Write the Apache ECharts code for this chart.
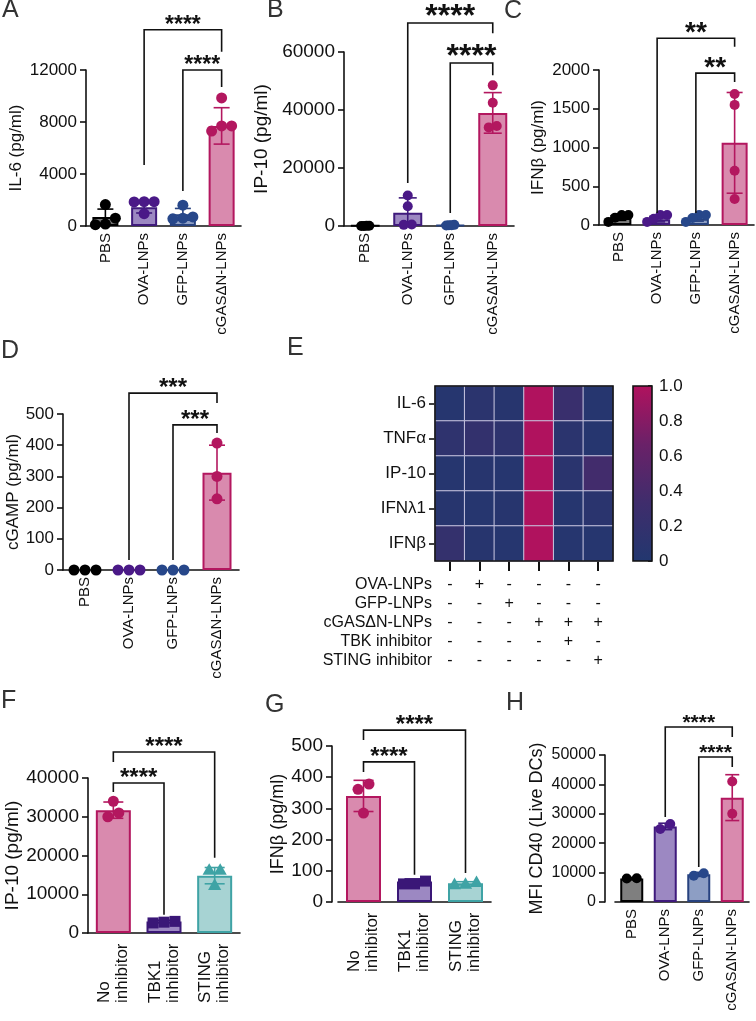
<!DOCTYPE html>
<html>
<head>
<meta charset="utf-8">
<script src="https://cdn.jsdelivr.net/npm/echarts@6/dist/echarts.min.js"></script>
<style>
  html, body { margin: 0; padding: 0; background: #fff; }
  #chart { width: 756px; height: 1021px; }
</style>
</head>
<body>
<div id="chart"></div>
<script>
// ---------- data ----------
const lnpGroups = ['PBS', 'OVA-LNPs', 'GFP-LNPs', 'cGASΔN-LNPs'];
const lnpKeys = ['PBS', 'OVA', 'GFP', 'CGAS'];
const inhibGroups = ['No\ninhibitor', 'TBK1\ninhibitor', 'STING\ninhibitor'];
const inhibKeys = ['NOI', 'TBK', 'STING'];

// A  IL-6 (pg/ml)
const il6Mean = [700, 1450, 900, 7700];
const il6Sd = [600, 450, 450, 1400];
const il6Pts = [[1650, 600, 100, 150], [1870, 1850, 1870, 950], [1600, 600, 700, 550], [9850, 7700, 7300, 7700]];
const il6Sig = [[1, 3, '****'], [2, 3, '****']];

// B  IP-10 (pg/ml)
const ip10Mean = [100, 4600, 300, 39000];
const ip10Sd = [100, 5100, 200, 7000];
const ip10Pts = [[0, 50, 100, 0], [10500, 6800, 500, 400], [300, 200, 400, 300], [48500, 42500, 34500, 34000]];
const ip10Sig = [[1, 3, '****'], [2, 3, '****']];

// C  IFNβ (pg/ml)
const ifnbMean = [90, 75, 80, 1060];
const ifnbSd = [30, 35, 30, 650];
const ifnbPts = [[130, 130, 40, 95], [130, 130, 40, 80], [130, 130, 40, 90], [1690, 1550, 700, 335]];
const ifnbSig = [[1, 3, '**'], [2, 3, '**']];

// D  cGAMP (pg/ml)
const cgampMean = [0, 0, 0, 312];
const cgampSd = [0, 0, 0, 88];
const cgampPts = [[0, 0, 0], [0, 0, 0], [0, 0, 0], [407, 300, 228]];
const cgampSig = [[1, 3, '***'], [2, 3, '***']];

// E  normalised heatmap
const heatRows = ['IL-6', 'TNFα', 'IP-10', 'IFNλ1', 'IFNβ'];
const heatVals = [
  [0.05, 0.10, 0.06, 1.00, 0.26, 0.05],
  [0.15, 0.20, 0.14, 1.00, 0.10, 0.05],
  [0.05, 0.06, 0.05, 1.00, 0.09, 0.36],
  [0.06, 0.05, 0.06, 1.00, 0.05, 0.09],
  [0.21, 0.06, 0.05, 1.00, 0.05, 0.05]
];
const colorTicks = [0, 0.2, 0.4, 0.6, 0.8, 1.0];
const tableRows = ['OVA-LNPs', 'GFP-LNPs', 'cGASΔN-LNPs', 'TBK inhibitor', 'STING inhibitor'];
const tableSigns = [
  ['-', '+', '-', '-', '-', '-'],
  ['-', '-', '+', '-', '-', '-'],
  ['-', '-', '-', '+', '+', '+'],
  ['-', '-', '-', '-', '+', '-'],
  ['-', '-', '-', '-', '-', '+']
];

// F  IP-10 with inhibitors
const fMean = [31700, 3000, 14800];
const fSd = [2100, 300, 2100];
const fPts = [[34000, 30000, 31000], [2600, 3000, 2800], [16300, 12400, 16300]];
const fSig = [[0, 2, '****'], [0, 1, '****']];

// G  IFNβ with inhibitors
const gMean = [340, 66, 60];
const gSd = [50, 8, 5];
const gPts = [[378, 285, 361], [58, 67, 58], [58, 64, 57]];
const gSig = [[0, 2, '****'], [0, 1, '****']];

// H  MFI CD40 (Live DCs)
const hMean = [8000, 25700, 9400, 35500];
const hSd = [300, 1100, 700, 7800];
const hPts = [[8100, 8000], [24800, 26500], [8900, 9800], [41000, 30000]];
const hSig = [[1, 3, '****'], [2, 3, '****']];

// ---------- styles ----------
const FONT = '"Liberation Sans", Arial, Helvetica, sans-serif';
const INK = '#111';
const groupStyle = {
  PBS:   { fill: '#7f7f7f', line: '#000000', dot: '#000000', shape: 'circle' },
  OVA:   { fill: '#9c88c2', line: '#3f1a7c', dot: '#4a1987', shape: 'circle' },
  GFP:   { fill: '#8d9ec4', line: '#27427f', dot: '#27478a', shape: 'circle' },
  CGAS:  { fill: '#d98aae', line: '#b3175f', dot: '#b3175f', shape: 'circle' },
  NOI:   { fill: '#d98aae', line: '#b3175f', dot: '#b3175f', shape: 'circle' },
  TBK:   { fill: '#9c88c2', line: '#3a1777', dot: '#3a1777', shape: 'square' },
  STING: { fill: '#a7d3d3', line: '#3fa3a5', dot: '#3fa3a5', shape: 'triangle' }
};
const heatColors = ['#22376f', '#3f2d6c', '#6a2168', '#b0125e'];

const chart = echarts.init(document.getElementById('chart'));
const option = {
  animation: false,
  backgroundColor: '#fff',
  textStyle: { fontFamily: FONT },
  title: [], grid: [], xAxis: [], yAxis: [], series: [], visualMap: []
};

function letter(text, left, top) {
  option.title.push({
    text: text, left: left, top: top, padding: 0,
    textStyle: { fontSize: 25, fontWeight: 'normal', color: '#333', fontFamily: FONT }
  });
}

// points that sit close together are put side by side, like a swarm
function swarm(values, pxPerUnit, d, maxSpan) {
  const order = values.map((v, i) => i).sort((a, b) => values[a] - values[b]);
  const offs = new Array(values.length).fill(0);
  let cluster = [];
  const flush = () => {
    const k = cluster.length;
    const step = k > 1 ? Math.min(d, maxSpan / (k - 1)) : 0;
    cluster.forEach((idx, j) => { offs[idx] = (j - (k - 1) / 2) * step; });
    cluster = [];
  };
  order.forEach(i => {
    if (cluster.length && (values[i] - values[cluster[cluster.length - 1]]) * pxPerUnit > d * 0.9) flush();
    cluster.push(i);
  });
  flush();
  return offs;
}

function addBarPanel(p) {
  const gi = option.grid.length;
  const st = p.keys.map(k => groupStyle[k]);
  const axisLine = { color: INK, width: 1.6 };
  option.grid.push({ left: p.left, top: p.top, width: p.width, height: p.height });

  const multi = p.cats.some(c => c.indexOf('\n') >= 0);
  const catLabel = {
    rotate: 90, interval: 0, margin: p.catMargin, color: INK,
    fontSize: p.catFont, fontFamily: FONT
  };
  if (multi) {
    catLabel.formatter = v => v.split('\n').map(s => '{a|' + s + '}').join('\n');
    catLabel.rich = { a: { width: p.catWidth, align: 'left', fontSize: p.catFont, fontFamily: FONT, color: INK, lineHeight: p.catFont + 1 } };
  }
  option.xAxis.push({
    gridIndex: gi, type: 'category', data: p.cats,
    axisLine: { lineStyle: axisLine },
    axisTick: { alignWithLabel: true, length: 6, lineStyle: axisLine },
    axisLabel: catLabel
  });
  option.yAxis.push({
    gridIndex: gi, type: 'value', min: 0, max: p.max, interval: p.step,
    offset: p.yOffset || 0,
    name: p.yName, nameLocation: 'middle', nameGap: p.nameGap, nameRotate: 90,
    nameTextStyle: { fontSize: p.nameFont, color: INK, fontFamily: FONT },
    axisLine: { show: true, lineStyle: axisLine },
    axisTick: { show: true, length: 6, lineStyle: axisLine },
    axisLabel: { fontSize: p.tickFont, margin: 9, color: INK, fontFamily: FONT, formatter: v => String(v) },
    splitLine: { show: false }
  });

  // bars = group means
  option.series.push({
    type: 'bar', xAxisIndex: gi, yAxisIndex: gi, barWidth: p.barWidth, z: 2,
    data: p.mean.map((v, i) => ({
      value: v,
      itemStyle: { color: st[i].fill, borderColor: st[i].line, borderWidth: v > 0 ? 2 : 0 }
    }))
  });

  // error bars (mean ± SD)
  option.series.push({
    type: 'custom', xAxisIndex: gi, yAxisIndex: gi, z: 3,
    data: p.mean.map((m, i) => [i, Math.max(0, m - p.sd[i]), m + p.sd[i]]),
    renderItem: (params, api) => {
      const i = api.value(0);
      if (api.value(2) - api.value(1) <= 0) return null;
      const lo = api.coord([i, api.value(1)]);
      const hi = api.coord([i, api.value(2)]);
      const half = p.capWidth / 2;
      const s = { stroke: st[i].line, lineWidth: 1.6 };
      const ch = [
        { type: 'line', shape: { x1: lo[0], y1: lo[1], x2: hi[0], y2: hi[1] }, style: s },
        { type: 'line', shape: { x1: hi[0] - half, y1: hi[1], x2: hi[0] + half, y2: hi[1] }, style: s }
      ];
      if (api.value(1) > 0) ch.push({ type: 'line', shape: { x1: lo[0] - half, y1: lo[1], x2: lo[0] + half, y2: lo[1] }, style: s });
      return { type: 'group', children: ch };
    }
  });

  // individual points
  const pxPerUnit = p.height / p.max;
  const ptData = [];
  p.pts.forEach((vals, i) => {
    const offs = swarm(vals, pxPerUnit, p.dot, p.spread);
    vals.forEach((v, j) => ptData.push([i, v, offs[j]]));
  });
  option.series.push({
    type: 'custom', xAxisIndex: gi, yAxisIndex: gi, z: 4, data: ptData,
    renderItem: (params, api) => {
      const i = api.value(0);
      const c = api.coord([i, api.value(1)]);
      const x = c[0] + api.value(2), y = c[1];
      const r = p.dot / 2;
      const sty = { fill: st[i].dot };
      if (st[i].shape === 'square') {
        return { type: 'rect', shape: { x: x - r, y: y - r, width: 2 * r, height: 2 * r }, style: sty };
      }
      if (st[i].shape === 'triangle') {
        const t = r * 1.2;
        return { type: 'polygon', shape: { points: [[x, y - t], [x + t, y + t * 0.75], [x - t, y + t * 0.75]] }, style: sty };
      }
      return { type: 'circle', shape: { cx: x, cy: y, r: r }, style: sty };
    }
  });

  // significance brackets
  option.series.push({
    type: 'custom', xAxisIndex: gi, yAxisIndex: gi, z: 5,
    data: p.sig.map((s, k) => [s[0], s[1], k]),
    renderItem: (params, api) => {
      const a = api.value(0), b = api.value(1), k = api.value(2);
      const lv = p.levels[k];
      const pa = api.coord([a, lv[1]]);
      const top = api.coord([a, lv[0]]);
      const pb = api.coord([b, lv[2]]);
      const tb = api.coord([b, lv[0]]);
      return {
        type: 'group', children: [
          { type: 'polyline', shape: { points: [pa, top, tb, pb] }, style: { stroke: INK, lineWidth: 1.6, fill: null } },
          {
            type: 'text', x: (top[0] + tb[0]) / 2, y: top[1] + p.starFont * 0.32,
            style: {
              text: p.sig[k][2], fill: INK, align: 'center', verticalAlign: 'bottom',
              font: 'bold ' + p.starFont + 'px ' + FONT
            }
          }
        ]
      };
    }
  });
}

// ---------- panels ----------
addBarPanel({
  left: 86, top: 70, width: 155, height: 156, max: 12000, step: 4000,
  cats: lnpGroups, keys: lnpKeys, mean: il6Mean, sd: il6Sd, pts: il6Pts, sig: il6Sig,
  levels: [[15100, 4700, 13400], [12000, 2700, 10700]],
  yName: 'IL-6 (pg/ml)', nameGap: 61, nameFont: 17, tickFont: 17, catFont: 15, catMargin: 7,
  starFont: 23, dot: 11, spread: 20, barWidth: 26, capWidth: 16
});
addBarPanel({
  left: 344, top: 52, width: 170, height: 174, max: 60000, step: 20000,
  cats: lnpGroups, keys: lnpKeys, mean: ip10Mean, sd: ip10Sd, pts: ip10Pts, sig: ip10Sig,
  levels: [[70000, 14800, 66500], [56200, 4500, 52000]],
  yName: 'IP-10 (pg/ml)', nameGap: 73, nameFont: 19, tickFont: 19, catFont: 15, catMargin: 7,
  starFont: 32, dot: 10, spread: 8, barWidth: 29, capWidth: 18
});
addBarPanel({
  left: 599, top: 70, width: 155, height: 155, max: 2000, step: 500,
  cats: lnpGroups, keys: lnpKeys, mean: ifnbMean, sd: ifnbSd, pts: ifnbPts, sig: ifnbSig,
  levels: [[2410, 155, 2300], [1960, 155, 1845]],
  yName: 'IFNβ (pg/ml)', nameGap: 52, nameFont: 17, tickFont: 17, catFont: 15, catMargin: 7,
  starFont: 28, dot: 10, spread: 20, barWidth: 26, capWidth: 16
});
addBarPanel({
  left: 63, top: 414, width: 176, height: 156, max: 500, step: 100,
  cats: lnpGroups, keys: lnpKeys, mean: cgampMean, sd: cgampSd, pts: cgampPts, sig: cgampSig,
  levels: [[567, 32, 535], [465, 32, 439]],
  yName: 'cGAMP (pg/ml)', nameGap: 37, nameFont: 17, tickFont: 17, catFont: 15, catMargin: 7,
  starFont: 24, dot: 11, spread: 24, barWidth: 29, capWidth: 16
});
addBarPanel({
  left: 88, top: 778, width: 152, height: 155, max: 40000, step: 10000,
  cats: inhibGroups, keys: inhibKeys, mean: fMean, sd: fSd, pts: fPts, sig: fSig,
  levels: [[46700, 44100, 19400], [38700, 36400, 4700]],
  yName: 'IP-10 (pg/ml)', nameGap: 63, nameFont: 19, tickFont: 19, catFont: 17, catMargin: 8, catWidth: 62,
  starFont: 24, dot: 11, spread: 28, barWidth: 35, capWidth: 20
});
addBarPanel({
  left: 338, top: 746, width: 153, height: 156, max: 500, step: 100, yOffset: 6,
  cats: inhibGroups, keys: inhibKeys, mean: gMean, sd: gSd, pts: gPts, sig: gSig,
  levels: [[551, 519, 93], [449, 417, 87]],
  yName: 'IFNβ (pg/ml)', nameGap: 38, nameFont: 18, tickFont: 19, catFont: 17, catMargin: 8, catWidth: 62,
  starFont: 24, dot: 11, spread: 28, barWidth: 35, capWidth: 20
});
addBarPanel({
  left: 615, top: 755, width: 134, height: 147, max: 50000, step: 10000, yOffset: 10,
  cats: lnpGroups, keys: lnpKeys, mean: hMean, sd: hSd, pts: hPts, sig: hSig,
  levels: [[59500, 28900, 56100], [49300, 11900, 45900]],
  yName: 'MFI CD40 (Live DCs)', nameGap: 59, nameFont: 18, tickFont: 16, catFont: 15, catMargin: 7,
  starFont: 21, dot: 10, spread: 12, barWidth: 23, capWidth: 14
});

// ---------- E: heatmap ----------
(function () {
  const gi = option.grid.length;
  const black = { color: INK, width: 1.6 };
  option.grid.push({ left: 435, top: 386, width: 178, height: 175, show: true, borderColor: INK, borderWidth: 1.6, backgroundColor: 'transparent', z: 10 });
  option.xAxis.push({
    gridIndex: gi, type: 'category', data: heatVals[0].map((v, i) => String(i)),
    axisLine: { show: false }, axisLabel: { show: false },
    axisTick: { show: true, alignWithLabel: true, length: 10, lineStyle: { color: INK, width: 2 } }
  });
  option.yAxis.push({
    gridIndex: gi, type: 'category', data: heatRows, inverse: true,
    axisLine: { show: false },
    axisTick: { show: true, alignWithLabel: true, length: 6, lineStyle: black },
    axisLabel: { fontSize: 17, color: INK, margin: 9, fontFamily: FONT, interval: 0 }
  });
  const heatData = [];
  heatVals.forEach((row, r) => row.forEach((v, c) => heatData.push([c, r, v])));
  const heatIdx = option.series.length;
  option.series.push({
    type: 'heatmap', xAxisIndex: gi, yAxisIndex: gi, data: heatData,
    itemStyle: { borderColor: '#c9c6e0', borderWidth: 1 }
  });
  option.visualMap.push({
    type: 'continuous', min: 0, max: 1, show: false, seriesIndex: heatIdx,
    inRange: { color: heatColors }
  });

  // colour bar
  const ci = option.grid.length;
  option.grid.push({ left: 633, top: 386, width: 19, height: 175, show: true, borderColor: INK, borderWidth: 1.6, backgroundColor: 'transparent', z: 10 });
  option.xAxis.push({ gridIndex: ci, type: 'category', data: [''], show: false });
  option.yAxis.push({
    gridIndex: ci, type: 'value', position: 'right', min: colorTicks[0], max: colorTicks[colorTicks.length - 1], interval: 0.2,
    axisLine: { show: false },
    axisTick: { show: true, inside: true, length: 4, lineStyle: black },
    axisLabel: { fontSize: 17, color: INK, margin: 7, fontFamily: FONT, formatter: v => v === 0 ? '0' : v.toFixed(1) },
    splitLine: { show: false }
  });
  option.series.push({
    type: 'custom', xAxisIndex: ci, yAxisIndex: ci, z: 2,
    data: [[0, colorTicks[0], colorTicks[colorTicks.length - 1]]],
    renderItem: (params, api) => {
      const lo = api.coord([0, api.value(1)]);
      const hi = api.coord([0, api.value(2)]);
      const w = api.size([1, 0])[0];
      return {
        type: 'rect', shape: { x: lo[0] - w / 2, y: hi[1], width: w, height: lo[1] - hi[1] },
        style: {
          fill: new echarts.graphic.LinearGradient(0, 1, 0, 0,
            heatColors.map((c, k) => ({ offset: k / (heatColors.length - 1), color: c })))
        }
      };
    }
  });

  // treatment table under the heatmap
  const ti = option.grid.length;
  option.grid.push({ left: 435, top: 575, width: 178, height: 95 });
  option.xAxis.push({ gridIndex: ti, type: 'category', data: heatVals[0].map((v, i) => String(i)), show: false });
  option.yAxis.push({
    gridIndex: ti, type: 'category', data: tableRows, inverse: true,
    axisLine: { show: false }, axisTick: { show: false },
    axisLabel: { fontSize: 16, color: INK, margin: 3, fontFamily: FONT, interval: 0 }
  });
  const signData = [];
  tableSigns.forEach((row, r) => row.forEach((s, c) => signData.push([c, r, s])));
  option.series.push({
    type: 'custom', xAxisIndex: ti, yAxisIndex: ti, data: signData,
    renderItem: (params, api) => {
      const pt = api.coord([api.value(0), api.value(1)]);
      return {
        type: 'text', x: pt[0], y: pt[1],
        style: { text: signData[params.dataIndex][2], fill: INK, align: 'center', verticalAlign: 'middle', font: '16px ' + FONT }
      };
    }
  });
})();

letter('A', 2, -2);
letter('B', 267, -2);
letter('C', 504, -1);
letter('D', 1, 339);
letter('E', 287, 336);
letter('F', 1, 689);
letter('G', 265, 693);
letter('H', 506, 691);

chart.setOption(option);
</script>
</body>
</html>
